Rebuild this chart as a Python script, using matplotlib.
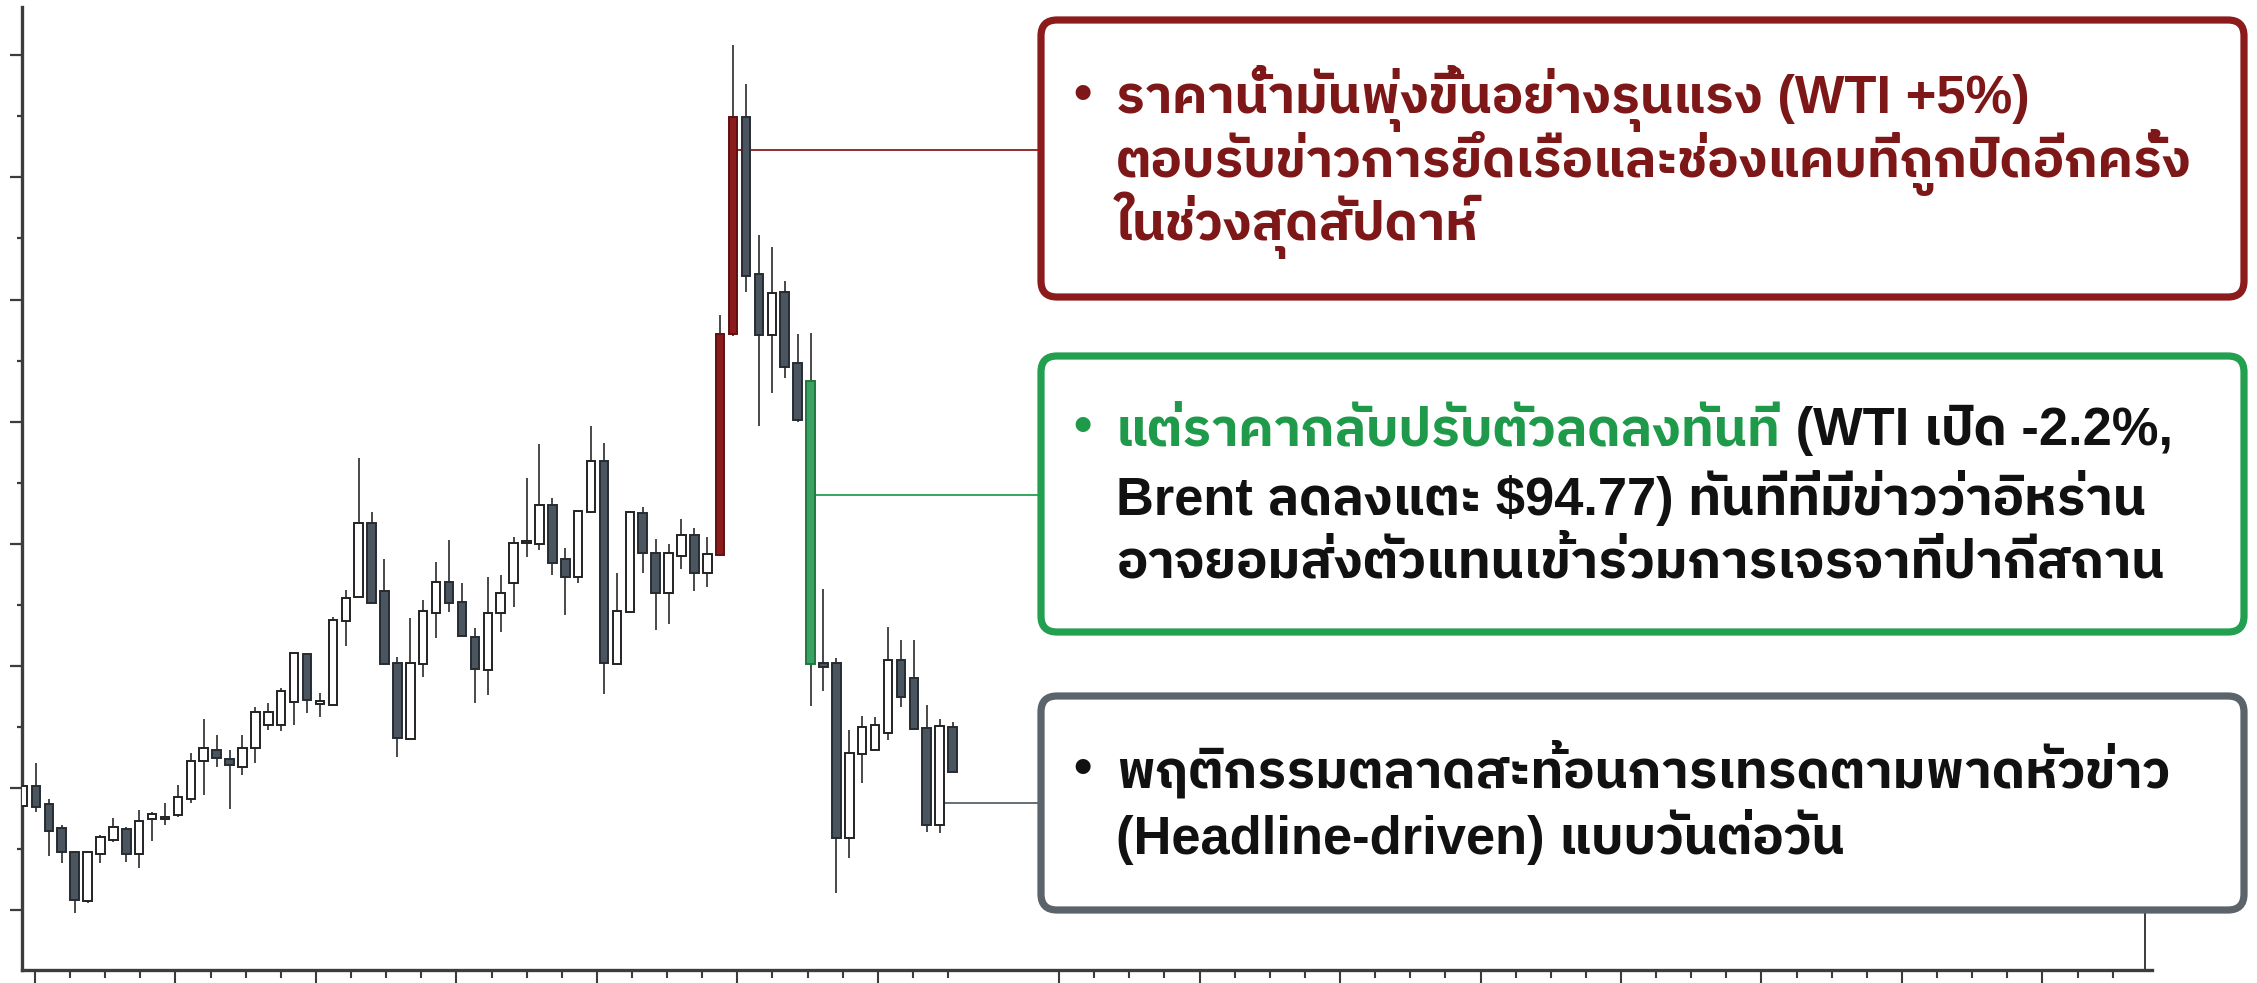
import numpy as np
import matplotlib
matplotlib.use('Agg')
import matplotlib.pyplot as plt
from matplotlib import font_manager as fm
from matplotlib.ft2font import FT2Font
from matplotlib.patches import FancyBboxPatch
from matplotlib.transforms import IdentityTransform
from matplotlib.ticker import FixedLocator

opens = [87.70, 88.03, 87.74, 87.34, 86.95, 86.15, 86.92, 87.15, 87.33, 86.92,
         87.49, 87.49, 87.56, 87.82, 88.44, 88.62, 88.47, 88.34, 88.65, 89.03,
         89.03, 89.41, 90.19, 89.37, 89.36, 90.73, 91.13, 92.34, 91.22, 90.04,
         88.80, 90.03, 90.86, 91.37, 91.04, 90.47, 89.93, 90.86, 91.35, 92.01,
         91.99, 92.63, 91.75, 91.45, 92.52, 93.35, 90.03, 90.88, 92.50, 91.85,
         91.19, 91.80, 92.14, 91.52, 91.81, 95.43, 98.99, 96.41, 95.42, 96.12,
         94.96, 94.66, 90.04, 90.04, 87.18, 88.55, 88.62, 88.90, 90.09, 89.80,
         88.98, 87.39, 89.00]
highs = [88.03, 88.41, 87.82, 87.39, 86.97, 86.95, 87.23, 87.51, 87.36, 87.64,
         87.60, 87.75, 88.05, 88.57, 89.13, 88.87, 88.62, 88.87, 89.32, 89.39,
         89.64, 90.21, 90.19, 89.55, 90.80, 91.24, 93.40, 92.52, 91.75, 90.14,
         90.78, 91.08, 91.70, 92.06, 91.35, 90.62, 91.45, 91.49, 92.11, 93.07,
         93.63, 92.75, 91.93, 92.53, 93.93, 93.65, 91.52, 92.52, 92.60, 92.08,
         91.99, 92.40, 92.26, 92.11, 95.74, 100.16, 99.53, 97.05, 96.86, 96.30,
         95.43, 95.45, 91.26, 90.13, 88.95, 89.18, 89.16, 90.63, 90.42, 90.42,
         89.36, 89.13, 89.08]
lows = [87.70, 87.60, 86.88, 86.77, 85.95, 86.12, 86.77, 87.11, 86.79, 86.69,
        87.13, 87.39, 87.52, 87.75, 87.88, 88.34, 87.65, 88.21, 88.41, 88.95,
        88.93, 89.03, 89.23, 89.16, 89.36, 90.32, 91.13, 91.03, 90.03, 88.51,
        88.80, 89.82, 90.45, 90.88, 90.49, 89.39, 89.52, 90.55, 90.96, 91.78,
        91.90, 91.49, 90.83, 91.35, 92.50, 89.54, 90.03, 90.88, 91.52, 90.59,
        90.68, 91.58, 91.22, 91.29, 91.81, 95.40, 96.12, 93.93, 94.47, 94.71,
        93.99, 89.34, 89.59, 86.28, 86.85, 88.08, 88.62, 88.78, 89.32, 88.96,
        87.28, 87.26, 88.26]
closes = [88.03, 87.69, 87.29, 86.95, 86.16, 86.95, 87.20, 87.36, 86.92, 87.46,
          87.57, 87.52, 87.85, 88.44, 88.65, 88.49, 88.37, 88.65, 89.24, 89.24,
          89.59, 90.21, 89.44, 89.42, 90.75, 91.11, 92.34, 91.03, 90.03, 88.82,
          90.04, 90.90, 91.37, 91.03, 90.49, 89.95, 90.86, 91.19, 92.01, 92.03,
          92.63, 91.68, 91.45, 92.53, 93.35, 90.04, 90.90, 92.52, 91.85, 91.19,
          91.85, 92.14, 91.52, 91.83, 95.43, 98.99, 96.38, 95.42, 96.10, 94.89,
          94.02, 90.03, 89.98, 87.18, 88.57, 89.00, 89.03, 90.09, 89.49, 88.96,
          87.39, 89.01, 88.26]
red_days = [54, 55]     # weekend spike
green_days = [61]       # drop on the talks headline

# callout levels (price) where the connector leaves the candle
red_level, green_level, grey_level = 98.45, 92.80, 87.75
red_from, green_from, grey_from = 55, 61, 71

red_lines = ["ราคาน้ำมันพุ่งขึ้นอย่างรุนแรง (WTI +5%)",
             "ตอบรับข่าวการยึดเรือและช่องแคบที่ถูกปิดอีกครั้ง",
             "ในช่วงสุดสัปดาห์"]
green_head = "แต่ราคากลับปรับตัวลดลงทันที"
green_lines = [" (WTI เปิด -2.2%,",
               "Brent ลดลงแตะ $94.77) ทันทีที่มีข่าวว่าอิหร่าน",
               "อาจยอมส่งตัวแทนเข้าร่วมการเจรจาที่ปากีสถาน"]
grey_lines = ["พฤติกรรมตลาดสะท้อนการเทรดตามพาดหัวข่าว",
              "(Headline-driven) แบบวันต่อวัน"]

RED, GREEN, GREY = '#8c1c1c', '#22a04f', '#5b636b'
RED_TXT, GREEN_TXT = '#7e1717', '#1f9a4b'


def thai_family():
    # Thai-capable families and their weights; prefer a loopless sans with a bold face
    weights = {}
    for fe in fm.fontManager.ttflist:
        try:
            cmap = FT2Font(fe.fname).get_charmap()
        except Exception:
            continue
        if 0x0E01 in cmap and 0x0E49 in cmap:
            w = fe.weight if isinstance(fe.weight, int) else (700 if 'bold' in str(fe.weight) else 400)
            weights.setdefault(fe.name, set()).add(w)
    for pref in ['IBM Plex Sans Thai', 'Prompt', 'Kanit', 'Noto Sans Thai UI',
                 'Noto Sans Thai', 'Anuphan']:
        if pref in weights and max(weights[pref]) >= 600:
            return pref
    for pref in ['Noto Sans Thai', 'Anuphan']:
        if pref in weights:
            return pref
    return sorted(weights)[0] if weights else None


TH = thai_family()
fams = ['Liberation Sans'] + ([TH] if TH else []) + ['DejaVu Sans']

W, H = 2257, 983
fig = plt.figure(figsize=(W / 100, H / 100), dpi=100)
fig.patch.set_facecolor('white')
ax = fig.add_axes([22 / W, 13 / H, 2130 / W, 963 / H])
ax.set_xlim(-0.077, 164.9)
ax.set_ylim(85.02, 100.79)

n = len(opens)
x = np.arange(n)
o = np.array(opens)
c = np.array(closes)
face, edge = [], []
for i in range(n):
    if i in red_days:
        face.append(RED); edge.append('#5e1010')
    elif i in green_days:
        face.append('#3aa363'); edge.append('#23773f')
    elif c[i] >= o[i]:
        face.append('white'); edge.append('#222222')
    else:
        face.append('#4a555f'); edge.append('#262c31')

ax.vlines(x, lows, highs, color='#3a3a3a', lw=1.3, zorder=2)
body_lo = np.minimum(o, c)
body_h = np.maximum(np.abs(c - o), 0.04)
ax.bar(x, body_h, bottom=body_lo, width=0.66, color=face, edgecolor=edge,
       linewidth=1.4, zorder=3)

# axes styling
for s in ['top', 'right']:
    ax.spines[s].set_visible(False)
for s in ['left', 'bottom']:
    ax.spines[s].set_linewidth(2.4)
    ax.spines[s].set_color('#3c3c3c')
ax.yaxis.set_major_locator(FixedLocator(np.arange(86, 101, 2)))
ax.yaxis.set_minor_locator(FixedLocator(np.arange(87, 100, 2)))
step = 10.88
xmaj = list(0.93 + step * np.arange(7)) + list(80.25 + step * np.arange(8))
xmin = list(0.93 + step / 4 * np.arange(27)) + list(80.25 + step / 4 * np.arange(31))
xmin = [v for v in xmin if v not in xmaj]
ax.xaxis.set_major_locator(FixedLocator(xmaj))
ax.xaxis.set_minor_locator(FixedLocator(xmin))
ax.tick_params(axis='y', which='major', length=8.5, width=1.6, color='#3c3c3c', labelleft=False)
ax.tick_params(axis='y', which='minor', length=3.8, width=1.6, color='#3c3c3c')
ax.tick_params(axis='x', which='major', length=10, width=1.5, color='#3c3c3c', labelbottom=False)
ax.tick_params(axis='x', which='minor', length=6, width=1.5, color='#3c3c3c')

# boxes (pixel coordinates, y from top of image)
BX0, BX1 = 1041, 2244
boxes = [(RED, 20, 297), (GREEN, 356, 632), (GREY, 696, 910)]
for col, top, bot in boxes:
    p = FancyBboxPatch((BX0, H - bot), BX1 - BX0, bot - top,
                       boxstyle='round,pad=0,rounding_size=16',
                       transform=IdentityTransform(), facecolor='white',
                       edgecolor=col, linewidth=5.2, zorder=5)
    fig.add_artist(p)

# connectors
box_x = ax.transData.inverted().transform((BX0, 0))[0]
ax.hlines(red_level, red_from, box_x, color=RED, lw=1.3, zorder=1)
ax.hlines(green_level, green_from, box_x, color=GREEN, lw=1.3, zorder=1)
ax.hlines(grey_level, grey_from, box_x, color=GREY, lw=1.3, zorder=1)
fig.add_artist(plt.Line2D([2145 / W, 2145 / W], [1 - 913 / H, 1 - 970 / H],
                          color='#3c3c3c', lw=1.4))

FS = 24
TX, BUL = 1116, 1083


def put(s, xpx, ypx, col, **kw):
    return fig.text(xpx / W, 1 - ypx / H, s, color=col, fontsize=FS, family=fams,
                    fontweight='bold', va='baseline', zorder=6, **kw)


texts, fit = [], []
for s, yb, tw in zip(red_lines, [113, 177, 240], [912, 1064, 364]):
    t = put(s, TX, yb, RED_TXT)
    texts.append(t); fit.append(([t], tw))
g_head = put(green_head, TX, 445, GREEN_TXT)
g_tail = put(green_lines[0], TX + 500, 445, '#111111')
texts += [g_head, g_tail]; fit.append(([g_head, g_tail], 1060))
for s, yb, tw in zip(green_lines[1:], [515, 578], [1041, 1049]):
    t = put(s, TX, yb, '#111111')
    texts.append(t); fit.append(([t], tw))
for s, yb, tw in zip(grey_lines, [787, 854], [1072, 743]):
    t = put(s, TX, yb, '#111111')
    texts.append(t); fit.append(([t], tw))
bullets = [put('•', BUL, 110, RED_TXT, ha='center'),
           put('•', BUL, 442, GREEN_TXT, ha='center'),
           put('•', BUL, 784, '#111111', ha='center')]

# size the callout text so the lines span about as wide as in the reference
fig.canvas.draw()
r = fig.canvas.get_renderer()
ratios, widths = [], []
for arts, tw in fit:
    wsum = sum(a.get_window_extent(r).width for a in arts)
    widths.append(wsum)
    ratios.append(tw / wsum)
k = float(np.median(ratios))
k = min(k, 1110 / max(widths))
for t in texts + bullets:
    t.set_fontsize(FS * k)
fig.canvas.draw()
ext = g_head.get_window_extent(fig.canvas.get_renderer())
g_tail.set_x(ext.x1 / W)

fig.savefig('out.png', dpi=100, facecolor='white')
